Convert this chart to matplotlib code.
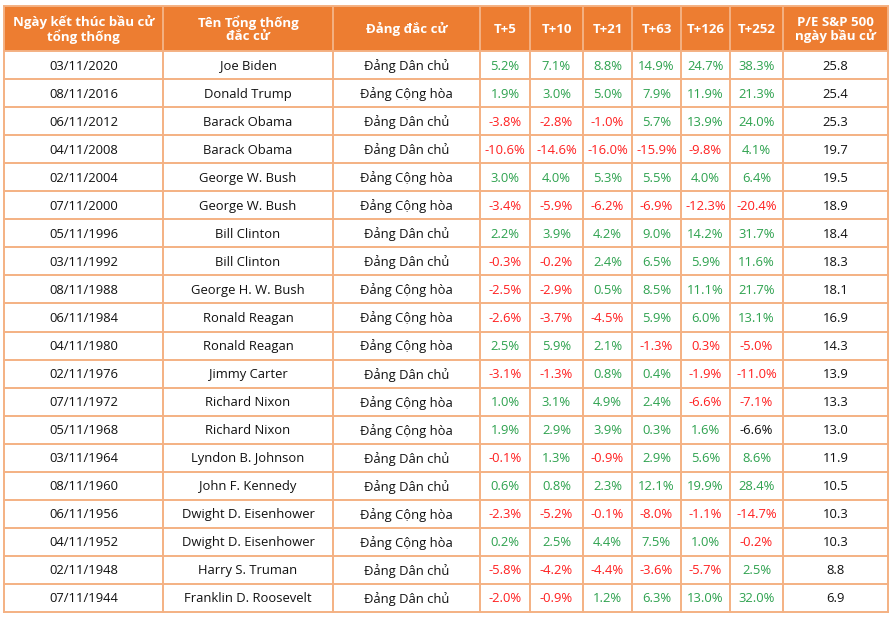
import matplotlib
matplotlib.use("Agg")
import matplotlib.pyplot as plt
from matplotlib.patches import Rectangle

plt.rcParams['font.family'] = ['Open Sans', 'Noto Sans', 'DejaVu Sans']

headers = ["Ngày kết thúc bầu cử\ntổng thống", "Tên Tổng thống\nđắc cử", "Đảng đắc cử",
           "T+5", "T+10", "T+21", "T+63", "T+126", "T+252", "P/E S&P 500\nngày bầu cử"]

dates = ["03/11/2020", "08/11/2016", "06/11/2012", "04/11/2008", "02/11/2004", "07/11/2000",
         "05/11/1996", "03/11/1992", "08/11/1988", "06/11/1984", "04/11/1980", "02/11/1976",
         "07/11/1972", "05/11/1968", "03/11/1964", "08/11/1960", "06/11/1956", "04/11/1952",
         "02/11/1948", "07/11/1944"]

presidents = ["Joe Biden", "Donald Trump", "Barack Obama", "Barack Obama", "George W. Bush",
              "George W. Bush", "Bill Clinton", "Bill Clinton", "George H. W. Bush", "Ronald Reagan",
              "Ronald Reagan", "Jimmy Carter", "Richard Nixon", "Richard Nixon", "Lyndon B. Johnson",
              "John F. Kennedy", "Dwight D. Eisenhower", "Dwight D. Eisenhower", "Harry S. Truman",
              "Franklin D. Roosevelt"]

D = "Đảng Dân chủ"
R = "Đảng Cộng hòa"
parties = [D, R, D, D, R, R, D, D, R, R, R, D, R, R, D, D, R, R, D, D]

t5 = [5.2, 1.9, -3.8, -10.6, 3.0, -3.4, 2.2, -0.3, -2.5, -2.6, 2.5, -3.1, 1.0, 1.9, -0.1, 0.6, -2.3, 0.2, -5.8, -2.0]
t10 = [7.1, 3.0, -2.8, -14.6, 4.0, -5.9, 3.9, -0.2, -2.9, -3.7, 5.9, -1.3, 3.1, 2.9, 1.3, 0.8, -5.2, 2.5, -4.2, -0.9]
t21 = [8.8, 5.0, -1.0, -16.0, 5.3, -6.2, 4.2, 2.4, 0.5, -4.5, 2.1, 0.8, 4.9, 3.9, -0.9, 2.3, -0.1, 4.4, -4.4, 1.2]
t63 = [14.9, 7.9, 5.7, -15.9, 5.5, -6.9, 9.0, 6.5, 8.5, 5.9, -1.3, 0.4, 2.4, 0.3, 2.9, 12.1, -8.0, 7.5, -3.6, 6.3]
t126 = [24.7, 11.9, 13.9, -9.8, 4.0, -12.3, 14.2, 5.9, 11.1, 6.0, 0.3, -1.9, -6.6, 1.6, 5.6, 19.9, -1.1, 1.0, -5.7, 13.0]
t252 = [38.3, 21.3, 24.0, 4.1, 6.4, -20.4, 31.7, 11.6, 21.7, 13.1, -5.0, -11.0, -7.1, -6.6, 8.6, 28.4, -14.7, -0.2, 2.5, 32.0]
pe = [25.8, 25.4, 25.3, 19.7, 19.5, 18.9, 18.4, 18.3, 18.1, 16.9, 14.3, 13.9, 13.3, 13.0, 11.9, 10.5, 10.3, 10.3, 8.8, 6.9]

returns = [t5, t10, t21, t63, t126, t252]

# style
GREEN = "#2ea24f"
RED = "#ff2020"
BLACK = "#111111"
# cells whose colour in the reference does not follow the sign: (row, return column) -> colour
color_override = {(10, 4): RED, (13, 5): BLACK}

HEADER_BG = "#ed7d31"
BORDER = "#f4b183"

col_edges = [4, 163, 333, 480, 530, 583, 632, 681, 730, 783, 888]
top, header_bottom, row_h = 6, 51, 28.05

W, H = 893, 618
fig = plt.figure(figsize=(W / 100, H / 100), dpi=100)
ax = fig.add_axes([0, 0, 1, 1])
ax.set_xlim(0, W)
ax.set_ylim(H, 0)
ax.axis("off")

nrows = len(dates)
bottom = header_bottom + nrows * row_h
FS = 9.4

# header
ax.add_patch(Rectangle((col_edges[0], top), col_edges[-1] - col_edges[0], header_bottom - top,
                       facecolor=HEADER_BG, edgecolor="none", zorder=1))
for j, h in enumerate(headers):
    cx = (col_edges[j] + col_edges[j + 1]) / 2
    ax.text(cx, (top + header_bottom) / 2 + 1, h, ha="center", va="center", color="white",
            fontsize=9.5, fontweight="bold", linespacing=1.02, zorder=3)

# body
for i in range(nrows):
    cy = header_bottom + (i + 0.5) * row_h + 1
    texts = [dates[i], presidents[i], parties[i]]
    for j, t in enumerate(texts):
        cx = (col_edges[j] + col_edges[j + 1]) / 2
        ax.text(cx, cy, t, ha="center", va="center", color=BLACK, fontsize=FS, zorder=3)
    for k, series in enumerate(returns):
        v = series[i]
        c = GREEN if v >= 0 else RED
        c = color_override.get((i, k), c)
        j = 3 + k
        cx = (col_edges[j] + col_edges[j + 1]) / 2
        ax.text(cx, cy, f"{v:.1f}%", ha="center", va="center", color=c, fontsize=FS, zorder=3)
    cx = (col_edges[9] + col_edges[10]) / 2
    ax.text(cx, cy, f"{pe[i]:.1f}", ha="center", va="center", color=BLACK, fontsize=FS, zorder=3)

# grid lines
lw = 1.4
for x in col_edges:
    ax.plot([x, x], [top, bottom], color=BORDER, lw=lw, zorder=2, solid_capstyle="projecting")
ax.plot([col_edges[0], col_edges[-1]], [top, top], color=BORDER, lw=lw, zorder=2)
for i in range(nrows + 1):
    y = header_bottom + i * row_h
    ax.plot([col_edges[0], col_edges[-1]], [y, y], color=BORDER, lw=lw, zorder=2)

fig.savefig("out.png", dpi=100, facecolor="white")
